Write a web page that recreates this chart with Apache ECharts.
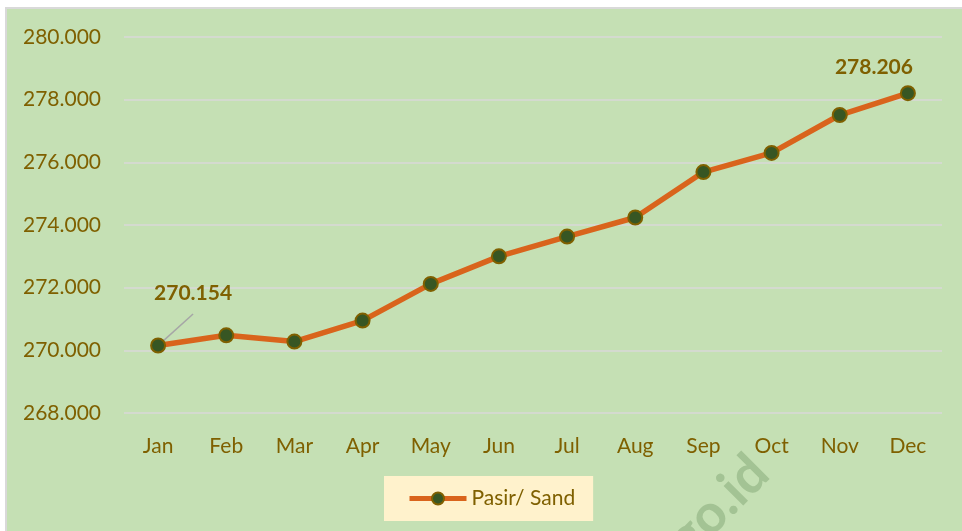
<!DOCTYPE html>
<html>
<head>
<meta charset="utf-8">
<script src="https://cdn.jsdelivr.net/npm/echarts@6/dist/echarts.min.js"></script>
<style>
html, body { margin: 0; padding: 0; background: #ffffff; }
#chartDiv { width: 962px; height: 531px; }
</style>
</head>
<body>
<div id="chartDiv"></div>
<script>
var months = ['Jan', 'Feb', 'Mar', 'Apr', 'May', 'Jun', 'Jul', 'Aug', 'Sep', 'Oct', 'Nov', 'Dec'];
var sandValues = [270154, 270480, 270280, 270950, 272120, 273000, 273630, 274240, 275690, 276300, 277510, 278206];
var labelledMonths = ['Jan', 'Dec'];
var seriesName = 'Pasir/ Sand';

var textColor = '#7f6000';

// 280000 -> "280.000"
function dotFormat(v) {
    return String(Math.round(v)).replace(/\B(?=(\d{3})+(?!\d))/g, '.');
}

var seriesData = sandValues.map(function (v, i) {
    var item = { value: v };
    if (labelledMonths.indexOf(months[i]) >= 0) {
        item.label = {
            show: true,
            position: 'top',
            distance: 5,
            offset: i == 0 ? [35, -29] : [-34, -2],
            formatter: function (p) { return dotFormat(p.value); },
            color: textColor,
            fontFamily: 'Lato',
            fontWeight: 'bold',
            fontSize: 21
        };
        if (i == 0) {
            item.labelLine = {
                show: true,
                lineStyle: { color: '#a6a6a6', width: 1.5 }
            };
        }
    }
    return item;
});

var mychart = echarts.init(document.getElementById('chartDiv'));

var option = {
    backgroundColor: '#ffffff',
    animation: false,
    textStyle: { fontFamily: 'Lato' },
    graphic: [{
        type: 'rect',
        z: -10,
        silent: true,
        shape: { x: 6, y: 8, width: 960, height: 530 },
        style: { fill: '#c5e0b4', stroke: '#d9d9d9', lineWidth: 2 }
    }, {
        // watermark
        type: 'text',
        z: 100,
        silent: true,
        x: 684,
        y: 540,
        rotation: Math.PI / 4,
        style: {
            text: 'bps.go.id',
            fontFamily: 'Lato',
            fontWeight: 'bold',
            fontSize: 54,
            fill: 'rgba(130, 165, 115, 0.5)',
            align: 'center',
            verticalAlign: 'middle'
        }
    }],
    grid: {
        left: 124,
        right: 20,
        top: 37,
        bottom: 118
    },
    legend: {
        left: 384,
        top: 476,
        padding: [12, 18, 12, 23],
        backgroundColor: '#fff2cc',
        itemWidth: 57,
        itemHeight: 15,
        data: [seriesName],
        lineStyle: { width: 5 },
        textStyle: {
            color: textColor,
            fontSize: 21,
            fontFamily: 'Lato'
        }
    },
    xAxis: {
        type: 'category',
        data: months,
        boundaryGap: true,
        axisLine: { show: false },
        axisTick: { show: false },
        axisLabel: {
            color: textColor,
            fontSize: 21,
            fontFamily: 'Lato',
            margin: 23
        }
    },
    yAxis: {
        type: 'value',
        min: 268000,
        max: 280000,
        interval: 2000,
        axisLine: { show: false },
        axisTick: { show: false },
        splitLine: { lineStyle: { color: '#d9d9d9', width: 1.5 } },
        axisLabel: {
            color: textColor,
            fontSize: 21,
            fontFamily: 'Lato',
            margin: 23,
            formatter: dotFormat
        }
    },
    series: [{
        name: seriesName,
        type: 'line',
        data: seriesData,
        symbol: 'circle',
        symbolSize: 14,
        lineStyle: { color: '#d9641c', width: 5.5 },
        itemStyle: {
            color: '#375623',
            borderColor: '#7f6000',
            borderWidth: 2
        },
        label: { show: false }
    }]
};
mychart.setOption(option);
</script>
</body>
</html>
